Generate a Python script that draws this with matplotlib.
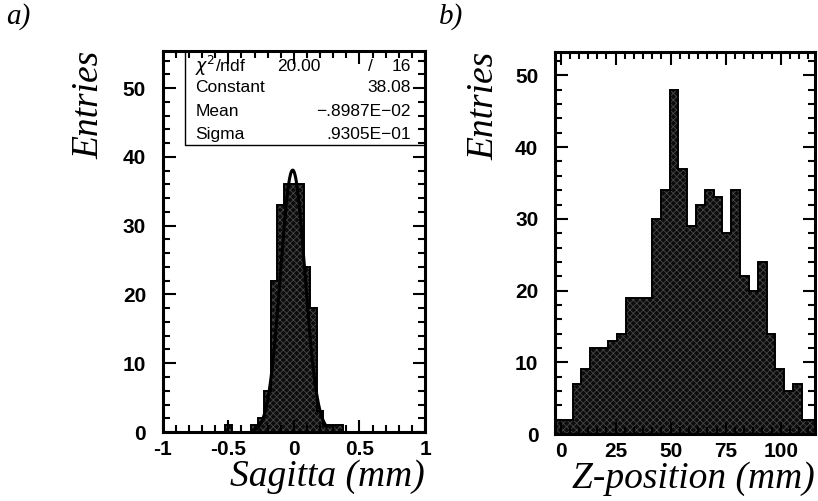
import matplotlib
matplotlib.use("Agg")
import matplotlib.pyplot as plt
from matplotlib.ticker import MultipleLocator, AutoMinorLocator
import numpy as np

# sagitta histogram (bin centres, bin width 0.05 mm)
sag_centers = [-0.5, -0.45, -0.4, -0.35, -0.3, -0.25, -0.2, -0.15, -0.1, -0.05,
               0.0, 0.05, 0.1, 0.15, 0.2, 0.25, 0.3, 0.35, 0.4]
sag_counts = [1, 0, 0, 0, 1, 2, 6, 22, 33, 36, 36, 36, 24, 18, 3, 1, 1, 1, 0]
sag_width = 0.05

# gaussian fit parameters from the stats box
fit_const = 38.08
fit_mean = -0.8987e-02
fit_sigma = 0.9305e-01

stat_names = ["Constant", "Mean", "Sigma"]
stat_values = ["38.08", "\u2212.8987E\u221202", ".9305E\u221201"]

# z-position histogram (bin width 4 mm)
z_first_edge = -2.5
z_width = 4.0
z_counts = [2, 2, 7, 9, 12, 12, 13, 14, 19, 19, 19, 30, 34, 48, 37, 29, 32, 34,
            33, 28, 34, 22, 20, 24, 14, 9, 6, 7, 2, 2]

plt.rcParams['font.family'] = ['Liberation Sans', 'DejaVu Sans']
plt.rcParams['hatch.linewidth'] = 0.6

fig = plt.figure(figsize=(8.18, 5.01), dpi=100)
ax1 = fig.add_axes([0.1989, 0.1377, 0.3207, 0.7605])
ax2 = fig.add_axes([0.6785, 0.1337, 0.3178, 0.7630])

serif = dict(family='Liberation Serif', style='italic')


def draw_hist(ax, edges, counts):
    ax.stairs(counts, edges, fill=True, facecolor='#0c0c0c', edgecolor='#474747',
              hatch='xxxxx', linewidth=0)
    ax.stairs(counts, edges, color='black', linewidth=1.4)


def style_axes(ax):
    for s in ax.spines.values():
        s.set_linewidth(2.2)
    ax.tick_params(which='both', direction='in', top=True, right=True, width=1.5,
                   labelsize=15)
    ax.tick_params(which='major', length=9)
    ax.tick_params(which='minor', length=5)
    ax.tick_params(axis='y', pad=12)
    ax.tick_params(axis='x', pad=6)
    for lab in ax.get_xticklabels() + ax.get_yticklabels():
        lab.set_fontweight('bold')
    ax.yaxis.set_major_locator(MultipleLocator(10))
    ax.yaxis.set_minor_locator(MultipleLocator(2))


# ---- a) sagitta
c = np.array(sag_centers)
sag_edges = np.append(c - sag_width / 2, c[-1] + sag_width / 2)
draw_hist(ax1, sag_edges, sag_counts)
xf = np.linspace(-0.3, 0.25, 400)
ax1.plot(xf, fit_const * np.exp(-0.5 * ((xf - fit_mean) / fit_sigma) ** 2),
         color='black', lw=2.2)
ax1.set_xlim(-1, 1)
ax1.set_ylim(0, 55.4)
ax1.xaxis.set_major_locator(MultipleLocator(0.5))
ax1.xaxis.set_minor_locator(MultipleLocator(0.1))
ax1.set_xticks([-1, -0.5, 0, 0.5, 1], ['-1', '-0.5', '0', '0.5', '1'])
style_axes(ax1)
ax1.set_xlabel('Sagitta (mm)', fontsize=27, loc='right', labelpad=0, **serif)
ax1.set_ylabel('Entries', fontsize=27, loc='top', labelpad=12, **serif)

# stats box
bx0, by0 = 0.085, 0.753
ax1.plot([bx0, bx0, 1], [1, by0, by0], transform=ax1.transAxes, color='black',
         lw=1.0, clip_on=False)
tx_l, tx_r = 0.125, 0.945
rows_y = [0.960, 0.904, 0.840, 0.781]
fs = 12.5
ax1.text(tx_l, rows_y[0], '$\\chi^2$/ndf', transform=ax1.transAxes, fontsize=fs,
         va='center', ha='left')
ax1.text(0.60, rows_y[0], '20.00', transform=ax1.transAxes, fontsize=fs,
         va='center', ha='right')
ax1.text(0.79, rows_y[0], '/', transform=ax1.transAxes, fontsize=fs,
         va='center', ha='center')
ax1.text(tx_r, rows_y[0], '16', transform=ax1.transAxes, fontsize=fs,
         va='center', ha='right')
for name, val, yy in zip(stat_names, stat_values, rows_y[1:]):
    ax1.text(tx_l, yy, name, transform=ax1.transAxes, fontsize=fs, va='center',
             ha='left')
    ax1.text(tx_r, yy, val, transform=ax1.transAxes, fontsize=fs, va='center',
             ha='right')

# ---- b) z-position
z_edges = z_first_edge + z_width * np.arange(len(z_counts) + 1)
draw_hist(ax2, z_edges, z_counts)
ax2.set_xlim(-2.5, 115.5)
ax2.set_ylim(0, 53.3)
ax2.xaxis.set_major_locator(MultipleLocator(25))
ax2.xaxis.set_minor_locator(AutoMinorLocator(6))
style_axes(ax2)
ax2.set_xlabel('Z-position (mm)', fontsize=27, loc='right', labelpad=0, **serif)
ax2.set_ylabel('Entries', fontsize=27, loc='top', labelpad=10, **serif)

fig.text(0.008, 0.952, 'a)', fontsize=21, **serif)
fig.text(0.537, 0.952, 'b)', fontsize=21, **serif)

fig.savefig('out.png', dpi=100)
